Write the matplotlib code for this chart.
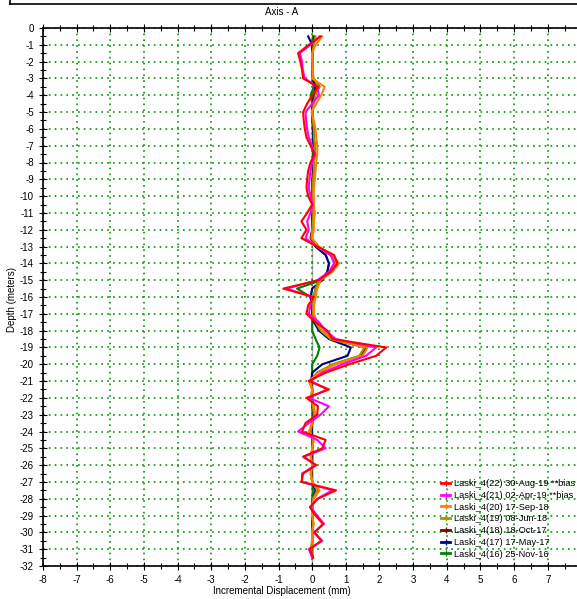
import matplotlib
matplotlib.use("Agg")
import matplotlib.pyplot as plt
import numpy as np
from matplotlib.lines import Line2D
from matplotlib.ticker import MultipleLocator

plt.rcParams["font.family"] = ["Liberation Sans", "DejaVu Sans"]
plt.rcParams["axes.unicode_minus"] = False

###############################################################################
# Inclinometer readings, Axis A (depth below top of casing, 0.5 m spacing)
depth = np.arange(0.5, 32.0, 0.5)

labels = [
    "Laski_4(22) 30-Aug-19 **bias",
    "Laski_4(21) 02-Apr-19 **bias",
    "Laski_4(20) 17-Sep-18",
    "Laski_4(19) 08-Jun-18",
    "Laski_4(18) 18-Oct-17",
    "Laski_4(17) 17-May-17",
    "Laski_4(16) 25-Nov-16",
]
colors = ["#ff0000", "#ff00ff", "#ff8000", "#999900", "#800000", "#000080", "#008000"]

s22 = [0.25, -0.10, -0.42, -0.35, -0.30, -0.27, 0.17, 0.00, -0.15, -0.27,
       -0.25, -0.22, -0.17, -0.05, 0.07, -0.05, -0.12, -0.15, -0.17, -0.12,
       0.00, -0.15, -0.32, -0.17, -0.32, 0.15, 0.65, 0.75, 0.55, 0.20,
       -0.86, 0.05, -0.12, -0.17, 0.10, 0.45, 0.60, 2.20, 1.90, 1.10,
       0.40, -0.10, 0.50, -0.17, 0.17, 0.15, -0.20, -0.30, 0.40, 0.30,
       -0.27, 0.12, -0.27, -0.32, 0.71, 0.17, -0.07, 0.10, 0.32, 0.07,
       0.27, -0.07, 0.03]
s21 = [0.22, -0.05, -0.37, -0.30, -0.28, -0.22, 0.15, 0.20, 0.00, -0.20,
       -0.18, -0.15, -0.10, 0.00, 0.08, 0.00, -0.05, -0.08, -0.10, -0.05,
       0.02, -0.05, -0.15, -0.10, -0.20, 0.15, 0.55, 0.65, 0.50, 0.15,
       -0.76, 0.00, -0.05, -0.10, 0.20, 0.40, 0.70, 1.90, 1.60, 0.90,
       0.30, -0.05, 0.45, -0.10, 0.50, 0.25, -0.10, -0.42, 0.15, 0.40,
       -0.25, 0.10, -0.30, -0.30, 0.60, 0.15, -0.05, 0.15, 0.35, 0.05,
       0.30, -0.10, 0.00]
s20 = [0.30, 0.10, 0.00, 0.00, 0.02, 0.00, 0.37, 0.27, 0.12, -0.02,
       0.05, 0.10, 0.12, 0.15, 0.15, 0.12, 0.10, 0.08, 0.05, 0.05,
       0.05, 0.08, 0.05, 0.05, 0.00, 0.20, 0.60, 0.80, 0.60, 0.25,
       0.15, 0.10, 0.05, 0.05, 0.15, 0.30, 0.60, 1.65, 1.50, 0.70,
       0.20, -0.10, 0.00, -0.05, 0.05, 0.10, 0.00, -0.10, 0.05, 0.00,
       -0.05, 0.00, -0.05, 0.00, 0.22, 0.05, 0.00, 0.00, 0.05, 0.00,
       0.00, -0.05, 0.00]
s19 = [0.10, 0.05, 0.00, 0.02, 0.00, 0.05, 0.20, 0.10, 0.05, 0.00,
       0.02, 0.05, 0.05, 0.08, 0.08, 0.05, 0.05, 0.03, 0.02, 0.02,
       0.02, 0.03, 0.02, 0.00, -0.02, 0.15, 0.55, 0.70, 0.55, 0.20,
       0.10, 0.05, 0.02, 0.02, 0.10, 0.25, 0.55, 1.55, 1.40, 0.60,
       0.15, -0.05, 0.00, -0.02, 0.02, 0.05, 0.00, -0.05, 0.02, 0.00,
       -0.03, 0.00, -0.03, 0.00, 0.15, 0.02, 0.00, 0.00, 0.02, 0.00,
       0.00, -0.02, 0.00]
s18 = [0.05, 0.05, 0.00, 0.00, 0.00, 0.02, 0.22, 0.05, 0.02, 0.00,
       0.02, 0.05, 0.05, 0.08, 0.08, 0.05, 0.05, 0.02, 0.02, 0.02,
       0.02, 0.02, 0.00, 0.00, -0.05, 0.15, 0.55, 0.72, 0.55, 0.20,
       0.10, 0.05, 0.02, 0.02, 0.12, 0.28, 0.55, 1.60, 1.45, 0.65,
       0.15, -0.05, 0.00, -0.02, 0.02, 0.05, 0.00, -0.05, 0.02, 0.00,
       -0.03, 0.00, -0.03, 0.00, 0.18, 0.02, 0.00, 0.00, 0.02, 0.00,
       0.00, -0.02, 0.00]
s17 = [-0.12, 0.00, 0.00, 0.02, 0.00, 0.02, 0.10, 0.05, 0.02, 0.00,
       0.02, 0.02, 0.03, 0.05, 0.05, 0.03, 0.03, 0.02, 0.02, 0.02,
       0.02, 0.02, 0.00, 0.00, -0.02, 0.10, 0.40, 0.50, 0.45, 0.30,
       0.00, -0.05, 0.00, 0.00, 0.05, 0.20, 0.50, 1.15, 1.05, 0.30,
       0.00, -0.03, 0.00, 0.00, 0.02, 0.02, 0.00, -0.02, 0.02, 0.00,
       0.00, 0.00, -0.02, 0.00, 0.10, 0.02, 0.00, 0.00, 0.00, 0.00,
       0.00, 0.00, 0.00]
s16 = [0.02, 0.00, 0.00, 0.00, 0.00, 0.00, 0.05, -0.05, 0.00, 0.00,
       0.00, 0.02, 0.02, 0.02, 0.02, 0.02, 0.02, 0.00, 0.00, 0.00,
       0.00, 0.00, 0.00, 0.00, -0.02, 0.10, 0.40, 0.50, 0.45, 0.27,
       -0.45, -0.05, 0.00, 0.00, 0.00, 0.00, 0.10, 0.22, 0.15, 0.00,
       0.00, 0.00, 0.00, 0.00, 0.00, 0.02, 0.00, 0.00, 0.00, 0.00,
       0.00, 0.00, 0.00, 0.00, 0.02, 0.00, 0.00, 0.00, 0.00, 0.00,
       0.00, 0.00, 0.00]
series = [s22, s21, s20, s19, s18, s17, s16]

###############################################################################

W, H = 577, 599
fig = plt.figure(figsize=(W / 100, H / 100), dpi=100)
ax = fig.add_axes([43 / W, 1 - 566 / H, 1 - 43 / W, (566 - 28) / H])

# grid and zero line
ax.grid(which="major", color="#009a00", linestyle=(0, (1, 2.5)), linewidth=1.2)
ax.axvline(0, color="#b0b0b0", linewidth=1, zorder=1)

# oldest reading first so the latest ends up on top
for s, c in list(zip(series, colors))[::-1]:
    ax.plot(s, -depth, color=c, linewidth=1.5, zorder=3)

ax.set_xlim(-8, 7.87)
ax.set_ylim(-32, 0)
ax.xaxis.set_minor_locator(MultipleLocator(0.5))
ax.yaxis.set_major_locator(MultipleLocator(1))
ax.yaxis.set_minor_locator(MultipleLocator(0.5))
ax.set_xticks(np.arange(-8, 8, 1))
ax.tick_params(which="both", direction="inout", labelsize=7, top=True, width=0.8)
ax.tick_params(which="major", length=6)
ax.tick_params(which="minor", length=4)
ax.spines["right"].set_visible(False)
for sp in ["left", "bottom", "top"]:
    ax.spines[sp].set_linewidth(1.2)

handles = [Line2D([0], [0], color=c, linewidth=2, marker="|", markersize=4)
           for c in colors]
leg = ax.legend(handles, labels, loc="upper left",
                bbox_to_anchor=(441 / W, 1 - 479 / H),
                bbox_transform=fig.transFigure, frameon=False, fontsize=6.7,
                handlelength=1.0, handletextpad=0.35, labelspacing=0.3,
                borderaxespad=0, borderpad=0)
leg.set_zorder(5)

fig.text(282 / W, 1 - 12 / H, "Axis - A", ha="center", va="center", fontsize=7)
fig.text(282 / W, 1 - 591 / H, "Incremental Displacement (mm)", ha="center",
         va="center", fontsize=7)
fig.text(12 / W, 1 - 300 / H, "Depth (meters)", ha="center", va="center",
         rotation=90, fontsize=7)

# frame edge of the report page above the plot
fig.add_artist(Line2D([10 / W, 1], [1 - 4 / H, 1 - 4 / H], color="black",
                      linewidth=1.2, transform=fig.transFigure))
fig.add_artist(Line2D([10 / W, 10 / W], [1 - 4 / H, 1], color="black",
                      linewidth=1.2, transform=fig.transFigure))

fig.savefig("out.png", dpi=100)
